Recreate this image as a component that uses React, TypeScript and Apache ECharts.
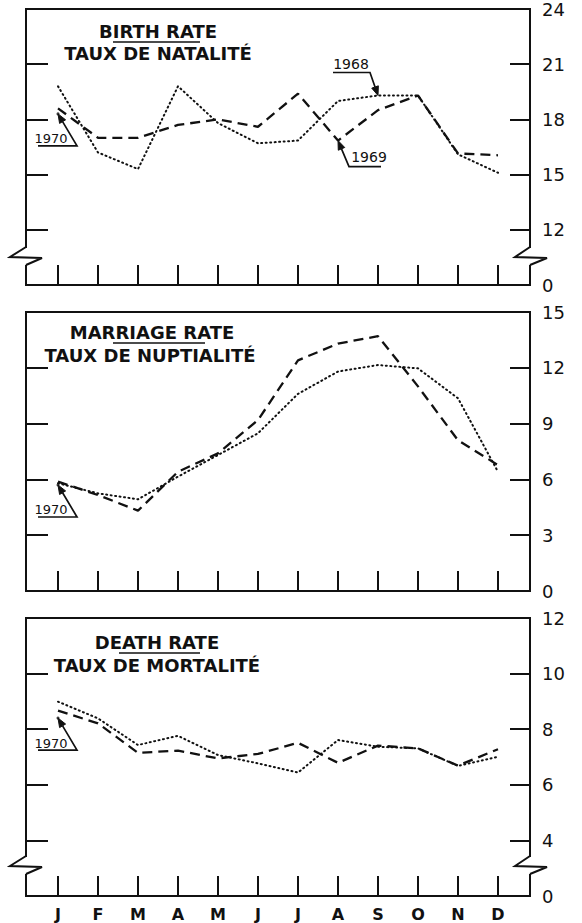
import React, { useEffect, useRef } from 'react';
import * as echarts from 'echarts';

// ---- data ----
const MONTHS = ['J', 'F', 'M', 'A', 'M', 'J', 'J', 'A', 'S', 'O', 'N', 'D'];

const BIRTH_1968 = [19.8, 16.2, 15.3, 19.8, 17.8, 16.7, 16.85, 19.0, 19.3, 19.3, 16.1, 15.1];
const BIRTH_1969 = [18.6, 17.0, 17.0, 17.7, 18.0, 17.6, 19.4, 16.85, 18.5, 19.3, 16.15, 16.05];
const BIRTH_1970 = [18.3];
const BIRTH_TICKS = ['0', '12', '15', '18', '21', '24'];

const MARRIAGE_1968 = [5.79, 5.25, 4.93, 6.15, 7.31, 8.48, 10.6, 11.8, 12.15, 11.97, 10.36, 6.41];
const MARRIAGE_1969 = [5.88, 5.16, 4.32, 6.41, 7.4, 9.19, 12.4, 13.3, 13.7, 11.0, 8.1, 6.77];
const MARRIAGE_1970 = [5.7];
const MARRIAGE_TICKS = ['0', '3', '6', '9', '12', '15'];

const DEATH_1968 = [8.99, 8.39, 7.43, 7.76, 7.07, 6.77, 6.44, 7.61, 7.37, 7.31, 6.68, 7.01];
const DEATH_1969 = [8.67, 8.21, 7.15, 7.23, 6.95, 7.11, 7.51, 6.79, 7.41, 7.31, 6.69, 7.28];
const DEATH_1970 = [8.4];
const DEATH_TICKS = ['0', '4', '6', '8', '10', '12'];

const TITLES = [
  ['BIRTH RATE', 'TAUX DE NATALITÉ'],
  ['MARRIAGE RATE', 'TAUX DE NUPTIALITÉ'],
  ['DEATH RATE', 'TAUX DE MORTALITÉ'],
];

// ---- layout ----
const W = 582;
const H = 923;
const LEFT = 26;
const RIGHT = 530;
const INK = '#111';
const FONT = 'DejaVu Sans';

const PANELS = [
  { top: 8, bottom: 285, min: 9, max: 24, interval: 3, ticks: BIRTH_TICKS, brk: 257, titleY: [31, 53], title: [158, 158], ul: [113, 200, 42] },
  { top: 312, bottom: 591, min: 0, max: 15, interval: 3, ticks: MARRIAGE_TICKS, brk: 0, titleY: [332, 355], title: [152, 150], ul: [113, 205, 343] },
  { top: 618, bottom: 896, min: 2, max: 12, interval: 2, ticks: DEATH_TICKS, brk: 866, titleY: [642, 665], title: [157, 157], ul: [119, 200, 653] },
];

const SERIES_SETS = [
  [BIRTH_1969, BIRTH_1968, BIRTH_1970],
  [MARRIAGE_1969, MARRIAGE_1968, MARRIAGE_1970],
  [DEATH_1969, DEATH_1968, DEATH_1970],
];

const MONTH_POS = MONTHS.map((_, i) => i);

function leader(points: number[][], tip: number[]) {
  const all = [...points, tip];
  const p = all[all.length - 2];
  const dx = tip[0] - p[0];
  const dy = tip[1] - p[1];
  const len = Math.hypot(dx, dy) || 1;
  const ux = dx / len;
  const uy = dy / len;
  const bx = tip[0] - ux * 9;
  const by = tip[1] - uy * 9;
  const nx = -uy;
  const ny = ux;
  return [
    {
      type: 'polyline',
      z: 20,
      shape: { points: [...points, [bx, by]] },
      style: { stroke: INK, lineWidth: 1.7, fill: null },
    },
    {
      type: 'polygon',
      z: 20,
      shape: { points: [tip, [bx + nx * 3.5, by + ny * 3.5], [bx - nx * 3.5, by - ny * 3.5]] },
      style: { fill: INK, stroke: INK, lineWidth: 1 },
    },
  ];
}

function label(text: string, x: number, y: number, size: number, weight = 'bold') {
  return {
    type: 'text',
    z: 20,
    x,
    y,
    style: {
      text,
      fill: INK,
      font: `${weight} ${size}px "${FONT}"`,
      textAlign: 'center',
      textVerticalAlign: 'middle',
    },
  };
}

export default function App() {
  const ref = useRef<HTMLDivElement>(null);

  useEffect(() => {
    if (!ref.current) return;
    const chart = echarts.init(ref.current, null, { renderer: 'svg', width: W, height: H });

    const grids = PANELS.map((p) => ({
      left: LEFT,
      width: RIGHT - LEFT,
      top: p.top,
      height: p.bottom - p.top,
      show: true,
      borderColor: INK,
      borderWidth: 2,
      backgroundColor: 'transparent',
    }));

    const xAxes = PANELS.map((_, g) => ({
      type: 'value',
      gridIndex: g,
      min: -0.8,
      max: 11.8,
      position: 'bottom',
      axisLine: { show: false, onZero: false },
      splitLine: { show: false },
      axisTick: { show: true, inside: true, length: 20, lineStyle: { color: INK, width: 2 }, customValues: MONTH_POS },
      axisLabel: {
        show: g === 2,
        customValues: MONTH_POS,
        formatter: (v: number) => MONTHS[Math.round(v)],
        margin: 10,
        color: INK,
        fontSize: 16,
        fontWeight: 'bold',
        fontFamily: FONT,
      },
    }));

    const yAxes: any[] = [];
    PANELS.forEach((p, g) => {
      const base = {
        type: 'value',
        gridIndex: g,
        min: p.min,
        max: p.max,
        interval: p.interval,
        axisLine: { show: false, onZero: false },
        splitLine: { show: false },
      };
      yAxes.push({
        ...base,
        position: 'left',
        axisTick: { show: true, inside: true, length: 22, lineStyle: { color: INK, width: 2 } },
        axisLabel: { show: false },
      });
      yAxes.push({
        ...base,
        position: 'right',
        axisTick: { show: true, inside: true, length: 20, lineStyle: { color: INK, width: 2 } },
        axisLabel: {
          show: true,
          margin: 12,
          color: INK,
          fontSize: 18,
          fontFamily: FONT,
          formatter: (v: number) => p.ticks[Math.round((v - p.min) / p.interval)],
        },
      });
    });

    const series: any[] = [];
    SERIES_SETS.forEach((set, g) => {
      const [d69, d68, d70] = set;
      series.push({
        type: 'line',
        name: '1969',
        xAxisIndex: g,
        yAxisIndex: 2 * g + 1,
        data: d69.map((v, i) => [i, v]),
        symbol: 'none',
        lineStyle: { color: INK, width: 2.3, type: [10, 6] },
        z: 5,
      });
      series.push({
        type: 'line',
        name: '1968',
        xAxisIndex: g,
        yAxisIndex: 2 * g + 1,
        data: d68.map((v, i) => [i, v]),
        symbol: 'none',
        lineStyle: { color: INK, width: 2, type: [1, 3.5], cap: 'round' },
        z: 5,
      });
      series.push({
        type: 'scatter',
        name: '1970',
        xAxisIndex: g,
        yAxisIndex: 2 * g + 1,
        data: d70.map((v, i) => [i, v]),
        symbol: 'circle',
        symbolSize: 3,
        itemStyle: { color: INK },
        z: 6,
      });
    });

    chart.setOption({
      animation: false,
      backgroundColor: '#fff',
      grid: grids,
      xAxis: xAxes,
      yAxis: yAxes,
      series,
    });

    const px = (si: number, x: number, y: number) => chart.convertToPixel({ seriesIndex: si } as any, [x, y]) as number[];

    const graphics: any[] = [];

    PANELS.forEach((p, g) => {
      graphics.push(label(TITLES[g][0], p.title[0], p.titleY[0], 18));
      graphics.push(label(TITLES[g][1], p.title[1], p.titleY[1], 18));
      graphics.push({
        type: 'line',
        z: 20,
        shape: { x1: p.ul[0], y1: p.ul[2], x2: p.ul[1], y2: p.ul[2] },
        style: { stroke: INK, lineWidth: 1.5 },
      });
      if (p.brk) {
        const y = p.brk;
        graphics.push({ type: 'rect', z: 15, shape: { x: LEFT - 3, y: y - 9, width: 6, height: 17 }, style: { fill: '#fff' } });
        graphics.push({
          type: 'polyline',
          z: 16,
          shape: { points: [[LEFT, y - 10], [LEFT - 16, y], [LEFT + 16, y + 1], [LEFT, y + 8]] },
          style: { stroke: INK, lineWidth: 2, fill: null },
        });
        graphics.push({ type: 'rect', z: 15, shape: { x: RIGHT - 3, y: y - 9, width: 6, height: 17 }, style: { fill: '#fff' } });
        graphics.push({
          type: 'polyline',
          z: 16,
          shape: { points: [[RIGHT, y - 10], [RIGHT - 15, y], [RIGHT + 17, y + 1], [RIGHT, y + 8]] },
          style: { stroke: INK, lineWidth: 2, fill: null },
        });
      }
    });

    SERIES_SETS.forEach((set, g) => {
      const T = px(3 * g + 2, 0, set[2][0]);
      graphics.push(label('1970', T[0] - 7, T[1] + 25, 13, 'normal'));
      graphics.push(...leader([[T[0] - 20, T[1] + 32], [T[0] + 19, T[1] + 32]], T));
    });

    const T68 = px(1, 8, BIRTH_1968[8]);
    graphics.push(label('1968', T68[0] - 27, T68[1] - 31, 14, 'normal'));
    graphics.push(...leader([[T68[0] - 45, T68[1] - 23], [T68[0] - 8, T68[1] - 23]], T68));

    const T69 = px(0, 7, BIRTH_1969[7]);
    graphics.push(label('1969', T69[0] + 31, T69[1] + 16, 14, 'normal'));
    graphics.push(...leader([[T69[0] + 43, T69[1] + 26], [T69[0] + 11, T69[1] + 26]], T69));

    chart.setOption({ graphic: graphics });

    return () => chart.dispose();
  }, []);

  return <div ref={ref} style={{ position: 'absolute', left: 0, top: 0, width: W, height: H }} />;
}
